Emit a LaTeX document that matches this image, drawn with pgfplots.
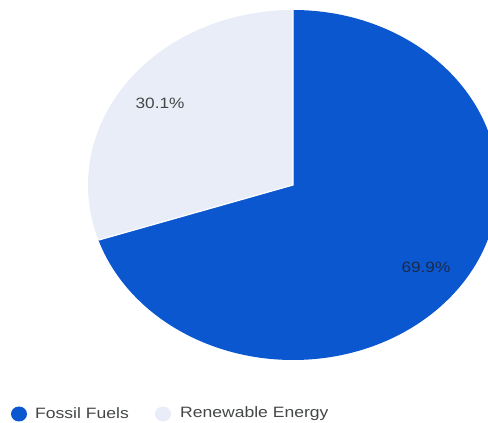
\documentclass[border=0pt]{standalone}
\usepackage{pgfplots}
\usepackage{pgfplotstable}
\pgfplotsset{compat=1.18}
\usepackage{fontspec}
\setmainfont{Liberation Sans}
\definecolor{fossil}{HTML}{0B57D0}
\definecolor{renew}{HTML}{E8EDF8}
\definecolor{lbl}{HTML}{444746}
\definecolor{lbldark}{HTML}{1B2A4A}
\pgfplotstableread{
label value
Fossil 69.9
Renewable 30.1
}\piedata
\begin{document}
\begin{tikzpicture}[x=1pt,y=1pt]
\useasboundingbox (0,0) rectangle (488,423);
\clip (0,0) rectangle (488,423);
\pgfplotstablegetelem{0}{value}\of\piedata \let\vA\pgfplotsretval
\pgfplotstablegetelem{1}{value}\of\piedata \let\vB\pgfplotsretval
\pgfmathsetmacro\angA{90-3.6*\vA}
\pgfmathsetmacro\angB{90+3.6*\vB}
\pgfmathsetmacro\midA{90-1.8*\vA}
\pgfmathsetmacro\midB{90+1.8*\vB}
\begin{axis}[at={(293pt,238pt)}, anchor=center, width=410pt, height=350pt,
  scale only axis, hide axis, xmin=-1, xmax=1, ymin=-1, ymax=1, clip=false]
\fill[fossil] (axis cs:0,0) -- (axis cs:0,1) arc[start angle=90, end angle=\angA, x radius=205pt, y radius=175pt] -- cycle;
\fill[renew] (axis cs:0,0) -- (axis cs:0,1) arc[start angle=90, end angle=\angB, x radius=205pt, y radius=175pt] -- cycle;
\draw[white, line width=1.2pt] (axis cs:0,1) -- (axis cs:0,0) -- (axis cs:{cos(\angA)},{sin(\angA)});
\node[text=lbldark, font=\fontsize{15}{18}\selectfont] at (axis cs:{0.8*cos(\midA)},{0.8*sin(\midA)}) {\scalebox{1.15}[1]{\vA\%}};
\node[text=lbl, font=\fontsize{15}{18}\selectfont] at (axis cs:{0.8*cos(\midB)},{0.8*sin(\midB)}) {\scalebox{1.15}[1]{\vB\%}};
\end{axis}
\fill[fossil] (19,9) ellipse[x radius=8, y radius=7.5];
\node[anchor=west, text=lbl, font=\fontsize{15}{18}\selectfont, inner sep=0pt] at (35,9.5) {\scalebox{1.17}[1]{Fossil Fuels}};
\fill[renew] (163,9) ellipse[x radius=8, y radius=7.5];
\node[anchor=west, text=lbl, font=\fontsize{15}{18}\selectfont, inner sep=0pt] at (180,9.5) {\scalebox{1.17}[1]{Renewable Energy}};
\end{tikzpicture}
\end{document}
